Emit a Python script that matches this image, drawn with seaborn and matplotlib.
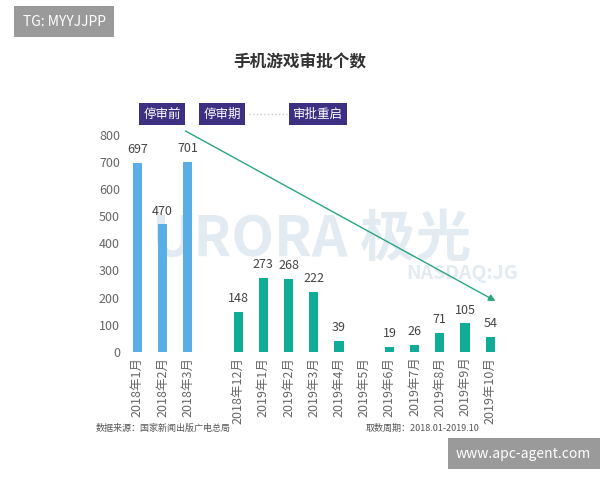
import numpy as np
import pandas as pd
import seaborn as sns
import matplotlib.pyplot as plt

plt.rcParams['font.family'] = 'Noto Sans CJK SC'

months = ["2018年1月", "2018年2月", "2018年3月", " ",
          "2018年12月", "2019年1月", "2019年2月", "2019年3月", "2019年4月", "2019年5月",
          "2019年6月", "2019年7月", "2019年8月", "2019年9月", "2019年10月"]
counts = [697, 470, 701, np.nan, 148, 273, 268, 222, 39, 0, 19, 26, 71, 105, 54]
period = ["before"] * 3 + ["gap"] + ["after"] * 11
yticks = [0, 100, 200, 300, 400, 500, 600, 700, 800]

df = pd.DataFrame({"month": months, "count": counts, "period": period})
colors = {"before": "#5aaee6", "gap": "#ffffff", "after": "#10ad96"}

fig = plt.figure(figsize=(6, 4.8), dpi=100)
ax = fig.add_axes([0.208, 0.267, 0.63, 0.452])
sns.barplot(data=df, x="month", y="count", hue="period", palette=colors,
            dodge=False, legend=False, width=0.36, saturation=1, ax=ax)
ax.set_ylim(0, 800)
ax.set_yticks(yticks)
ax.set_xlabel("")
ax.set_ylabel("")
for s in ax.spines.values():
    s.set_visible(False)
ax.tick_params(length=0, colors="#666666", labelsize=9)
plt.setp(ax.get_xticklabels(), rotation=90)
for i, v in enumerate(counts):
    if not np.isnan(v) and v > 0:
        ax.text(i, v + 25, f"{int(v)}", ha="center", va="bottom", fontsize=9, color="#444444")

# faint watermark behind the bars
fig.text(0.52, 0.5, "URORA 极光", fontsize=40, fontweight="bold", color="#e3ebf2",
         ha="center", va="center", zorder=-1)
fig.text(0.77, 0.43, "NASDAQ:JG", fontsize=14, fontweight="bold", color="#e3ebf2",
         ha="center", va="center", zorder=-1)
ax.set_zorder(1)
ax.patch.set_alpha(0)

# trend arrow
fig.patches.append(plt.matplotlib.patches.FancyArrowPatch(
    (0.305, 0.73), (0.83, 0.37), transform=fig.transFigure, arrowstyle="-|>",
    mutation_scale=10, color="#2aa57f", lw=1))

# phase boxes
for x, t in [(0.27, "停审前"), (0.37, "停审期"), (0.53, "审批重启")]:
    fig.text(x, 0.762, t, fontsize=9, color="white", ha="center", va="center",
             bbox=dict(boxstyle="square,pad=0.35", fc="#3d2f82", ec="none"))
fig.lines.append(plt.Line2D([0.415, 0.48], [0.762, 0.762], transform=fig.transFigure,
                            ls=":", color="#cccccc", lw=1))

fig.text(0.5, 0.87, "手机游戏审批个数", fontsize=12, fontweight="bold",
         color="#333333", ha="center", va="center")
fig.text(0.16, 0.108, "数据来源：国家新闻出版广电总局", fontsize=6.5, style="italic",
         color="#555555", va="center")
fig.text(0.61, 0.108, "取数周期：2018.01-2019.10", fontsize=6.5, style="italic",
         color="#555555", va="center")
fig.text(0.038, 0.955, "TG: MYYJJPP", fontsize=10, color="white", va="center",
         bbox=dict(boxstyle="square,pad=0.6", fc="#9a9a9a", ec="none"))
fig.text(0.76, 0.055, "www.apc-agent.com", fontsize=10, color="white", va="center",
         bbox=dict(boxstyle="square,pad=0.6", fc="#9a9a9a", ec="none"))

fig.savefig("out.png", dpi=100)
